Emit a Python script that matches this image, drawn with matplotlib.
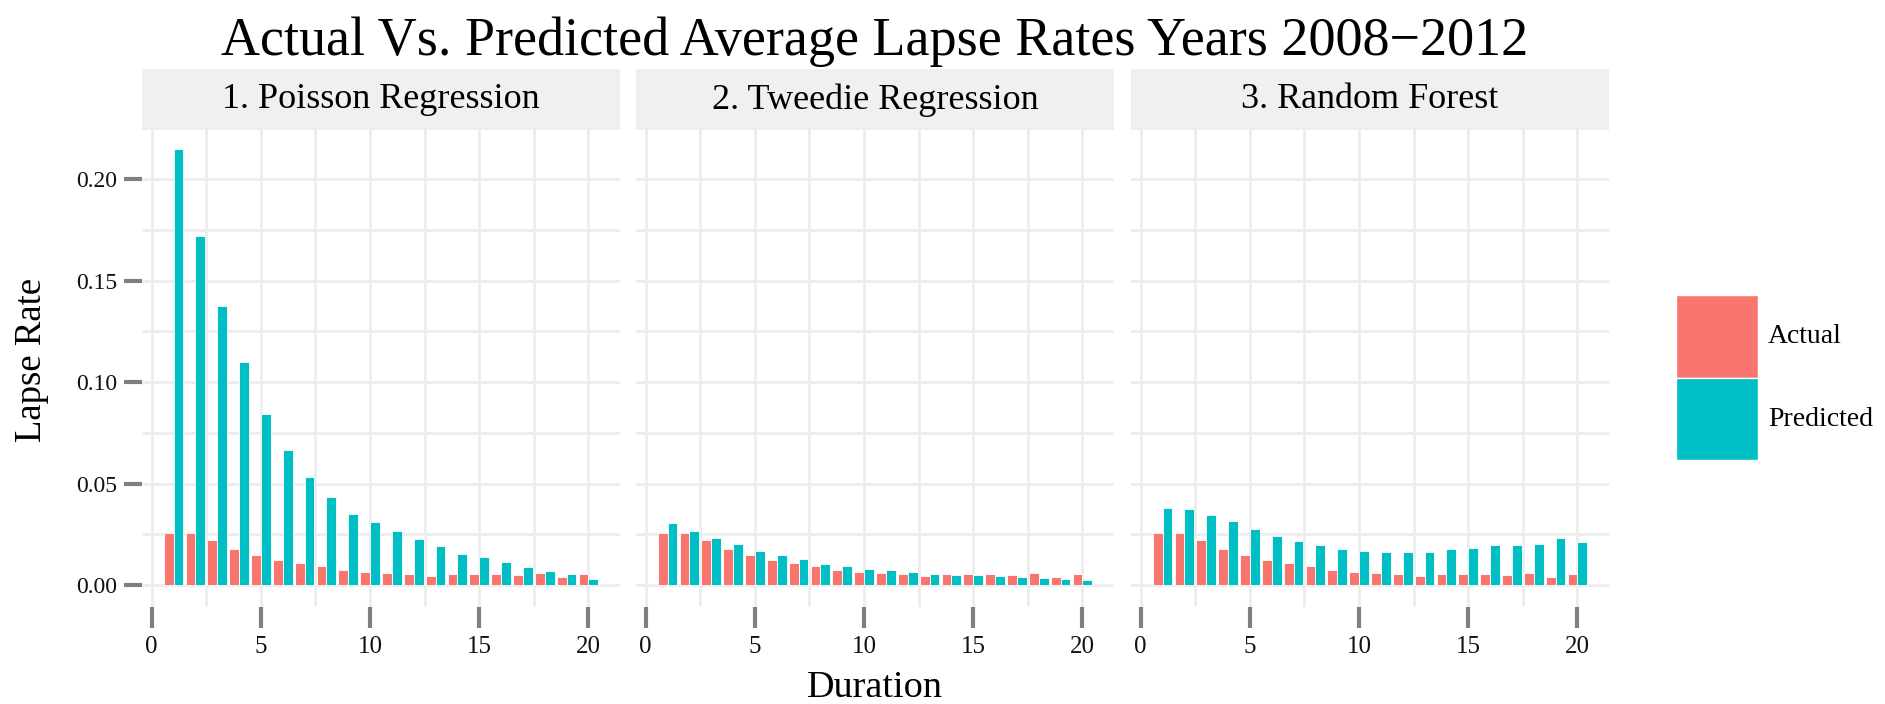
import numpy as np
import matplotlib
matplotlib.use("Agg")
import matplotlib.pyplot as plt
from matplotlib.patches import Patch

plt.rcParams["font.family"] = ["Liberation Serif", "DejaVu Serif"]

# data
duration = np.arange(1, 21)
actual = [0.0256, 0.0256, 0.0222, 0.0180, 0.0147, 0.0126, 0.0110, 0.0093, 0.0077, 0.0066,
          0.0061, 0.0056, 0.0044, 0.0056, 0.0056, 0.0056, 0.0050, 0.0061, 0.0040, 0.0056]
pred_poisson = [0.2146, 0.1717, 0.1375, 0.1097, 0.0842, 0.0668, 0.0531, 0.0433, 0.0350, 0.0309,
                0.0265, 0.0227, 0.0194, 0.0156, 0.0140, 0.0112, 0.0092, 0.0069, 0.0053, 0.0030]
pred_tweedie = [0.0304, 0.0266, 0.0234, 0.0203, 0.0169, 0.0148, 0.0127, 0.0106, 0.0094, 0.0078,
                0.0073, 0.0063, 0.0057, 0.0052, 0.0050, 0.0045, 0.0041, 0.0036, 0.0029, 0.0024]
pred_forest = [0.0378, 0.0373, 0.0346, 0.0315, 0.0276, 0.0243, 0.0217, 0.0196, 0.0180, 0.0169,
               0.0164, 0.0164, 0.0164, 0.0180, 0.0185, 0.0196, 0.0196, 0.0201, 0.0234, 0.0213]
models = ["1. Poisson Regression", "2. Tweedie Regression", "3. Random Forest"]
predictions = [pred_poisson, pred_tweedie, pred_forest]

C_ACT = "#F8766D"
C_PRED = "#00BFC4"
GRID = "#EDEDED"
TICK = "#7F7F7F"

W, H = 1885, 704
fig = plt.figure(figsize=(W / 100, H / 100), dpi=100)

panel_left = [142, 636, 1131]
panel_w = 478
panel_top, panel_bot = 127.5, 607
strip_top = 68.5

ymax = max(max(p) for p in predictions)
ylim = (-0.05 * ymax, 1.05 * ymax)
xlim = (0.55 - 0.05 * 19.9, 20.45 + 0.05 * 19.9)

for i, (name, pred) in enumerate(zip(models, predictions)):
    ax = fig.add_axes([panel_left[i] / W, 1 - panel_bot / H,
                       panel_w / W, (panel_bot - panel_top) / H])
    ax.bar(duration - 0.225, actual, width=0.45, color=C_ACT,
           edgecolor="white", linewidth=0.6, zorder=3)
    ax.bar(duration + 0.225, pred, width=0.45, color=C_PRED,
           edgecolor="white", linewidth=0.6, zorder=3)
    ax.set_xlim(*xlim)
    ax.set_ylim(*ylim)
    for xv in np.arange(0, 21, 2.5):
        ax.axvline(xv, color=GRID, lw=2.0, zorder=1)
    for yv in np.arange(0, 0.2251, 0.025):
        ax.axhline(yv, color=GRID, lw=2.0, zorder=1)
    for s in ax.spines.values():
        s.set_visible(False)
    ax.set_xticks([0, 5, 10, 15, 20])
    ax.tick_params(axis="x", length=15, width=3, color=TICK, labelsize=18,
                   pad=6, labelcolor="#111111")
    if i == 0:
        ax.set_yticks([0, 0.05, 0.10, 0.15, 0.20])
        ax.set_yticklabels(["0.00", "0.05", "0.10", "0.15", "0.20"])
        ax.tick_params(axis="y", length=13, width=3, color=TICK, labelsize=17,
                       pad=5, labelcolor="#111111")
    else:
        ax.set_yticks([])

    # facet strip
    sax = fig.add_axes([panel_left[i] / W, 1 - panel_top / H,
                        panel_w / W, (panel_top - strip_top) / H])
    sax.set_facecolor("#F0F0F0")
    sax.set_xticks([])
    sax.set_yticks([])
    for s in sax.spines.values():
        s.set_visible(False)
    sax.text(0.5, 0.47, name, ha="center", va="center", fontsize=26,
             transform=sax.transAxes)

fig.text(875 / W, 1 - 42 / H, "Actual Vs. Predicted Average Lapse Rates Years 2008\u22122012",
         ha="center", va="center", fontsize=39)
fig.text(32 / W, 1 - 360 / H, "Lapse Rate", rotation=90, ha="center", va="center",
         fontsize=26.5)
fig.text(875 / W, 1 - 688 / H, "Duration", ha="center", va="center", fontsize=27.5)

handles = [Patch(facecolor=C_ACT, edgecolor="white", label="Actual"),
           Patch(facecolor=C_PRED, edgecolor="white", label="Predicted")]
fig.legend(handles=handles, loc="center left",
           bbox_to_anchor=(1676 / W, 1 - 377.5 / H), frameon=False, fontsize=20,
           handlelength=82 / (20 * 100 / 72), handleheight=4.2, handletextpad=0.35,
           labelspacing=0.0, borderpad=0, borderaxespad=0)

fig.savefig("out.png", dpi=100)
